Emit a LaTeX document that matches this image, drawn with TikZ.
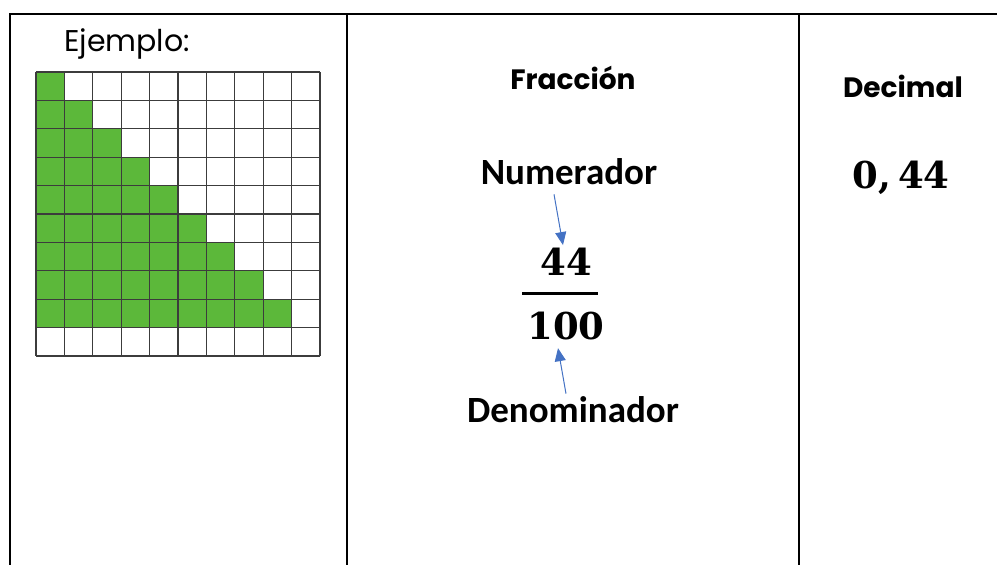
\documentclass[tikz,border=0pt]{standalone}
\usepackage{fontspec}
\newfontfamily\comicfont{Poppins}
\newfontfamily\califont{Carlito}
\newfontfamily\numfont{DejaVu Serif}
\usetikzlibrary{arrows.meta}
\definecolor{cellgreen}{RGB}{92,184,58}
\definecolor{arrowblue}{RGB}{68,114,196}
\definecolor{gridgray}{RGB}{60,60,60}
\tikzset{
  rule/.style={line width=2pt, line cap=rect},
  headtext/.style={font=\comicfont\bfseries\fontsize{28}{32}\selectfont, inner sep=0pt},
  labeltext/.style={font=\califont\bfseries\fontsize{37}{41}\selectfont, inner sep=0pt},
  numtext/.style={font=\numfont\bfseries\fontsize{37}{41}\selectfont, inner sep=0pt},
  pointer/.style={arrowblue, line width=1pt, -{Triangle[length=13pt,width=11pt]}},
}
\begin{document}
\begin{tikzpicture}[x=1pt,y=-1pt]
\useasboundingbox (0,0) rectangle (997,565);
\fill[white] (0,0) rectangle (997,565);
% table rules
\draw[rule] (10,14) -- (997,14);
\draw[rule] (10,14) -- (10,565);
\draw[rule] (347,14) -- (347,565);
\draw[rule] (799,14) -- (799,565);
% grid
\def\gx{36}\def\gy{72}\def\cs{28.4}
\foreach \r in {0,...,8}{
  \foreach \c in {0,...,\r}{
    \fill[cellgreen] (\gx+\c*\cs,\gy+\r*\cs) rectangle ++(\cs,\cs);
  }
}
\foreach \i in {0,...,10}{
  \draw[gridgray, line width=1.3pt] (\gx+\i*\cs,\gy) -- (\gx+\i*\cs,\gy+10*\cs);
  \draw[gridgray, line width=1.3pt] (\gx,\gy+\i*\cs) -- (\gx+10*\cs,\gy+\i*\cs);
}
% texts
\node[font=\comicfont\fontsize{30}{34}\selectfont, inner sep=0pt] (ej) at (127,44) {Ejemplo:};
\node[headtext] (fr) at (573,78) {Fracción};
\node[headtext] (dec) at (903,86) {Decimal};
\node[labeltext] (num) at (569,172) {Numerador};
\node[numtext] (n44) at (566,262) {44};
\draw[line width=3pt] (522,293) -- (598,293);
\node[numtext] (n100) at (566,326) {100};
\node[labeltext] (den) at (573,410) {Denominador};
\node[numtext] (val) at (901,178) {0,\hspace{0.2em}44};
% arrows
\draw[pointer] ([xshift=-15pt,yshift=-9pt]num.south) -- ([xshift=-3pt,yshift=3pt]n44.north);
\draw[pointer] ([xshift=-7pt,yshift=3pt]den.north) -- ([xshift=-8pt,yshift=-8pt]n100.south);
\end{tikzpicture}
\end{document}
